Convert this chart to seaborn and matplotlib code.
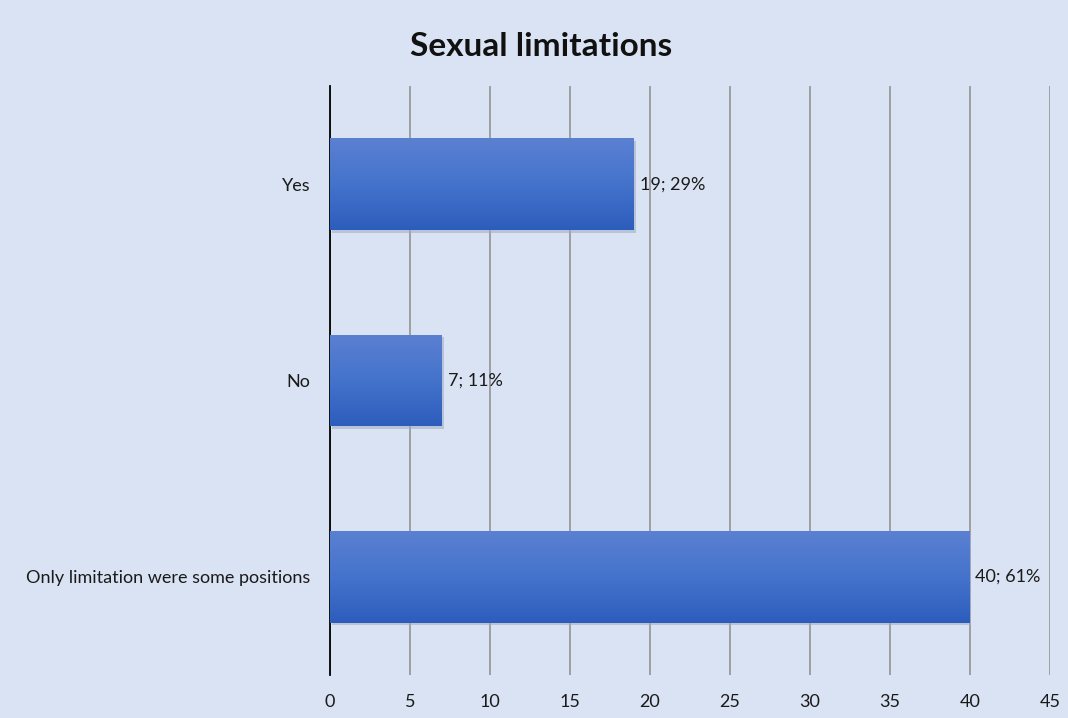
import numpy as np
import pandas as pd
import matplotlib
matplotlib.use('Agg')
import matplotlib.pyplot as plt
import seaborn as sns

# data
categories = ['Yes', 'No', 'Only limitation were some positions']
counts = [19, 7, 40]
percents = [29, 11, 61]
x_ticks = [0, 5, 10, 15, 20, 25, 30, 35, 40, 45]

bg = '#DAE3F3'
sns.set_style('white')
plt.rcParams['font.family'] = ['Lato', 'DejaVu Sans']

df = pd.DataFrame({'category': categories, 'count': counts})

fig = plt.figure(figsize=(10.68, 7.18), dpi=100, facecolor=bg)
ax = fig.add_axes([0.309, 0.060, 0.674, 0.820])
ax.set_facecolor(bg)

sns.barplot(data=df, x='count', y='category', orient='h', width=0.468,
            color='#4472C4', saturation=1, ax=ax, zorder=3,
            edgecolor='none', linewidth=0)

# vertical gradient on each bar, light at top, darker at bottom
grad = np.linspace(0, 1, 256).reshape(-1, 1)
cmap = matplotlib.colors.LinearSegmentedColormap.from_list('bar', ['#5B80D2', '#4473CC', '#2D5DBC'])
for p in list(ax.patches):
    x0, y0 = p.get_x(), p.get_y()
    w, h = p.get_width(), p.get_height()
    # soft shadow
    ax.add_patch(plt.Rectangle((x0 + 0.1, y0 + 0.012), w, h, color='#A3AEC4',
                               alpha=0.6, zorder=2, lw=0))
    im = ax.imshow(grad, cmap=cmap, aspect='auto', extent=[x0, x0 + w, y0 + h, y0],
                   zorder=4)
    im.set_clip_path(p)

for i, (c, pc) in enumerate(zip(counts, percents)):
    ax.text(c + 0.35, i, f'{c}; {pc}%', va='center', ha='left', fontsize=13,
            color='#1a1a1a', zorder=5)

ax.set_xlim(0, 45)
ax.set_ylim(2.5, -0.5)
ax.set_xticks(x_ticks)
ax.xaxis.grid(True, color='#8C8C8C', lw=1.1, zorder=0)
ax.set_axisbelow(True)
ax.tick_params(axis='both', length=0, labelsize=13, colors='#1a1a1a')
ax.tick_params(axis='x', pad=14)
ax.tick_params(axis='y', pad=14)
ax.set_xlabel('')
ax.set_ylabel('')
for s in ['top', 'right', 'bottom']:
    ax.spines[s].set_visible(False)
ax.spines['left'].set_color('#000000')
ax.spines['left'].set_linewidth(1.3)

fig.suptitle('Sexual limitations', x=0.507, y=0.955, fontsize=24, fontweight='bold',
             color='#111111')

fig.savefig('out.png', dpi=100, facecolor=bg)
